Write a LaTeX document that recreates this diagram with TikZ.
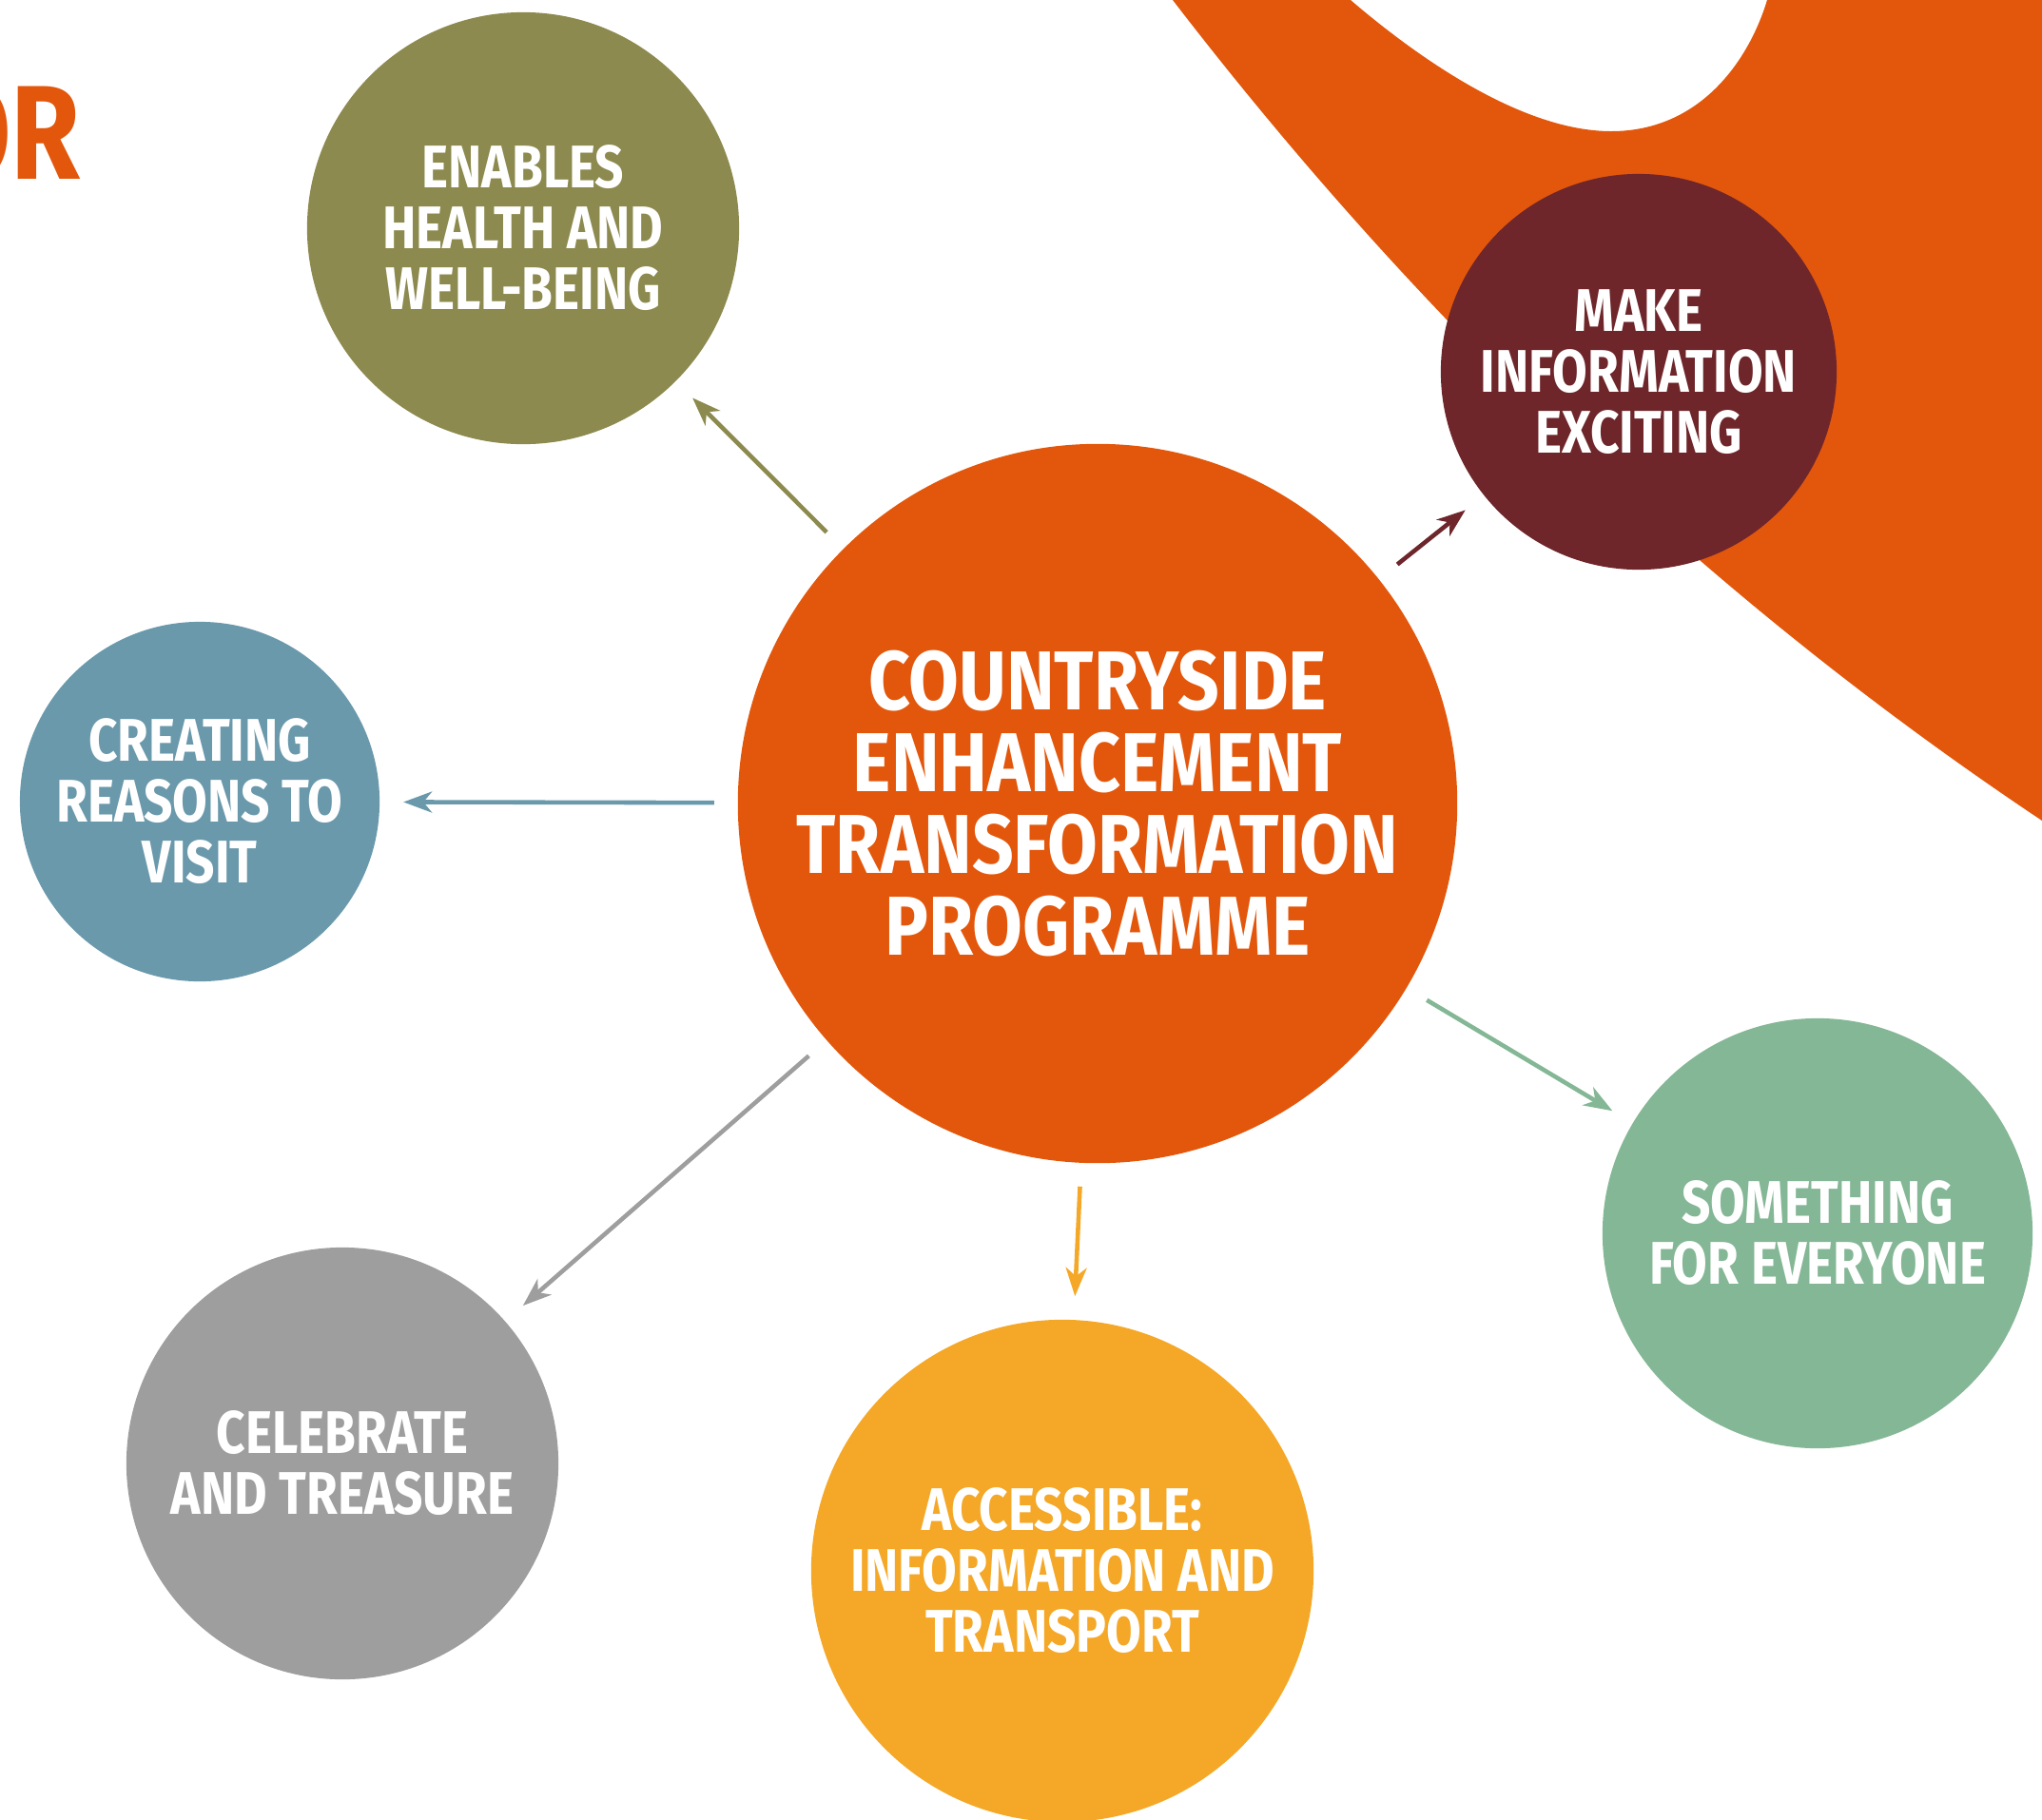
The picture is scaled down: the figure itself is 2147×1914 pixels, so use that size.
\documentclass[tikz,border=0pt]{standalone}
\usepackage{fontspec}
\newfontfamily\brush{Fira Sans}[FakeStretch=0.84]
\newfontfamily\hubbrush{Fira Sans}[FakeStretch=0.87]
\usepackage{tikz}
\usetikzlibrary{arrows.meta}

\definecolor{ctporange}{HTML}{E3570C}
\definecolor{healthcol}{HTML}{8C8A4E}
\definecolor{infocol}{HTML}{6E262B}
\definecolor{visitcol}{HTML}{6A99AC}
\definecolor{treasurecol}{HTML}{9E9E9E}
\definecolor{accesscol}{HTML}{F5A827}
\definecolor{everyonecol}{HTML}{84B795}

\begin{document}
\begin{tikzpicture}[
  x=0.01cm, y=-0.01cm,
  bubble/.style={circle,inner sep=0pt,outer sep=0pt,text=white,align=center},
  hub/.style={bubble,font=\hubbrush\bfseries\fontsize{25}{24.4}\selectfont},
  goal/.style={bubble,font=\brush\bfseries\fontsize{18}{18.2}\selectfont},
  link/.style={line width=1.3pt,
   -{Stealth[length=0.3cm,width=0.22cm,inset=0.09cm]},
   shorten <=0.25cm,shorten >=0.25cm}
  ]
  \useasboundingbox (0,0) rectangle (2147,1914);
  \clip (0,0) rectangle (2147,1914);

  % orange band behind the top right
  \fill[ctporange] (1233,0) -- (1420,0)
    .. controls (1490,60) and (1600,138) .. (1694,138)
    .. controls (1790,138) and (1840,60) .. (1858,0)
    -- (2147,0) -- (2147,863)
    .. controls (1804,634) and (1499,346) .. (1233,0) -- cycle;

  \node[anchor=base east,text=ctporange,
    font=\brush\bfseries\fontsize{40}{40}\selectfont] (heading) at (97,188) {OR};

  \node[hub,fill=ctporange,minimum size=7.56cm] (ctp) at (1154,845)
    {COUNTRYSIDE\\ENHANCEMENT\\TRANSFORMATION\\PROGRAMME};

  \node[goal,fill=healthcol,minimum size=4.54cm] (health) at (550,240)
    {ENABLES\\HEALTH AND\\WELL-BEING};
  \node[goal,fill=infocol,minimum size=4.16cm] (info) at (1723,391)
    {MAKE\\INFORMATION\\EXCITING};
  \node[goal,fill=visitcol,minimum size=3.78cm] (visit) at (210,843)
    {CREATING\\REASONS TO\\VISIT};
  \node[goal,fill=treasurecol,minimum size=4.54cm] (treasure) at (360,1539)
    {CELEBRATE\\AND TREASURE};
  \node[goal,fill=accesscol,minimum size=5.28cm] (access) at (1117,1652)
    {ACCESSIBLE:\\INFORMATION AND\\TRANSPORT};
  \node[goal,fill=everyonecol,minimum size=4.52cm] (everyone) at (1911,1297)
    {SOMETHING\\FOR EVERYONE};

  \draw[link,healthcol] (ctp) -- (health);
  \draw[link,infocol] (ctp) -- (info);
  \draw[link,visitcol] (ctp) -- (visit);
  \draw[link,treasurecol] (ctp) -- (treasure);
  \draw[link,accesscol] (ctp) -- (access);
  \draw[link,everyonecol] (ctp) -- (everyone);
\end{tikzpicture}
\end{document}
